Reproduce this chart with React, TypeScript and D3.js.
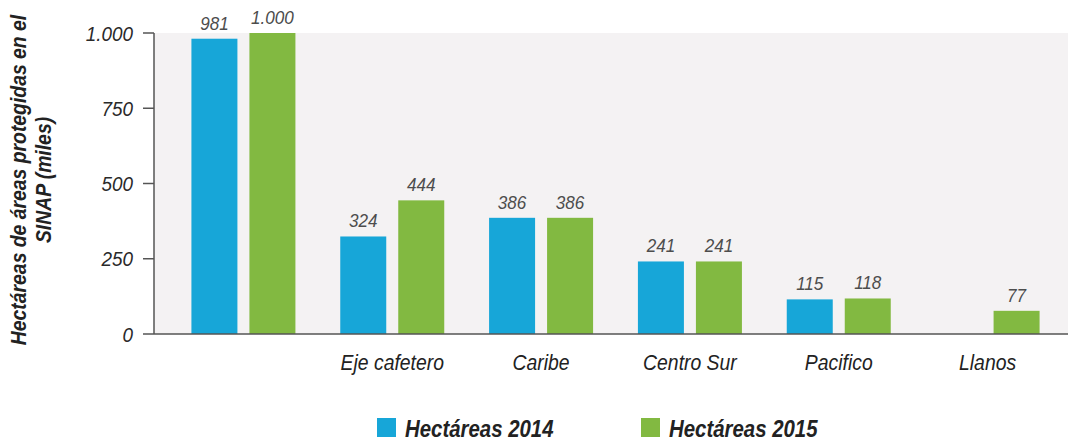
import React from "react";
import * as d3 from "d3";

const categories = ["", "Eje cafetero", "Caribe", "Centro Sur", "Pacifico", "Llanos"];
const values2014: (number | null)[] = [981, 324, 386, 241, 115, null];
const values2015: (number | null)[] = [1000, 444, 386, 241, 118, 77];
const seriesNames = ["Hectáreas 2014", "Hectáreas 2015"];
const yTicks = [0, 250, 500, 750, 1000];
const yTickLabels = ["0", "250", "500", "750", "1.000"];

const W = 1068, H = 442;
const FONT = "'Liberation Sans', Arial, sans-serif";
const COLORS = ["#17a6d8", "#82b941"];

const fmt = (v: number) => (v >= 1000 ? d3.format(",")(v).replace(/,/g, ".") : String(v));

function CText(props: {
  x: number; y: number; sx: number; anchor?: string; size: number; bold?: boolean; fill: string; dy?: string; children: React.ReactNode;
}) {
  const { x, y, sx, anchor = "start", size, bold, fill, dy, children } = props;
  return (
    <g transform={`translate(${x},${y}) scale(${sx},1)`}>
      <text x={0} y={0} dy={dy} textAnchor={anchor} fontStyle="italic" fontWeight={bold ? "bold" : "normal"} fontSize={size} fill={fill}>
        {children}
      </text>
    </g>
  );
}

export default function App() {
  const x = d3.scaleBand().domain(categories.map((c, i) => String(i))).range([169, 1062]);
  const pad = (x.bandwidth() - 104) / 2;
  const inner = d3.scaleBand().domain(["0", "1"]).range([pad, pad + 104]).paddingInner(12 / 58);
  const y = d3.scaleLinear().domain([0, 1000]).range([334, 33]);
  const series = [values2014, values2015];

  return (
    <svg width={W} height={H} style={{ position: "absolute", left: 0, top: 0 }} fontFamily={FONT}>
      <rect x={154} y={y(1000)} width={W - 154} height={y(0) - y(1000)} fill="#f4f2f3" />
      {series.map((vals, s) =>
        vals.map((v, i) =>
          v == null ? null : (
            <g key={`${s}-${i}`}>
              <rect
                x={(x(String(i)) as number) + (inner(String(s)) as number)}
                y={y(v)}
                width={inner.bandwidth()}
                height={y(0) - y(v)}
                fill={COLORS[s]}
              />
              <CText
                x={(x(String(i)) as number) + (inner(String(s)) as number) + inner.bandwidth() / 2}
                y={y(v) - 9}
                sx={0.9}
                anchor="middle"
                size={19}
                fill="#4d4d4d"
              >
                {fmt(v)}
              </CText>
            </g>
          )
        )
      )}
      <line x1={154} x2={154} y1={y(1000)} y2={y(0)} stroke="#555" strokeWidth={1.5} />
      <line x1={154} x2={W} y1={y(0)} y2={y(0)} stroke="#555" strokeWidth={1.5} />
      {yTicks.map((t, i) => (
        <g key={t}>
          <line x1={143} x2={154} y1={y(t)} y2={y(t)} stroke="#555" strokeWidth={1.5} />
          <CText x={133} y={y(t)} dy="0.36em" sx={0.9} anchor="end" size={21} fill="#2a2a2a">
            {yTickLabels[i]}
          </CText>
        </g>
      ))}
      {categories.map((c, i) => (
        <CText key={i} x={(x(String(i)) as number) + x.bandwidth() / 2} y={370} sx={0.88} anchor="middle" size={22} fill="#222">
          {c}
        </CText>
      ))}
      <g transform="translate(33,180) rotate(-90)">
        <CText x={0} y={-7} sx={0.88} anchor="middle" size={22} bold fill="#222">
          Hectáreas de áreas protegidas en el
        </CText>
        <CText x={0} y={18} sx={0.88} anchor="middle" size={22} bold fill="#222">
          SINAP (miles)
        </CText>
      </g>
      {seriesNames.map((n, s) => (
        <g key={n} transform={`translate(${377 + s * 264},418)`}>
          <rect x={0} y={0} width={19} height={19} fill={COLORS[s]} />
          <CText x={28} y={19} sx={0.85} size={24} bold fill="#222">
            {n}
          </CText>
        </g>
      ))}
    </svg>
  );
}
